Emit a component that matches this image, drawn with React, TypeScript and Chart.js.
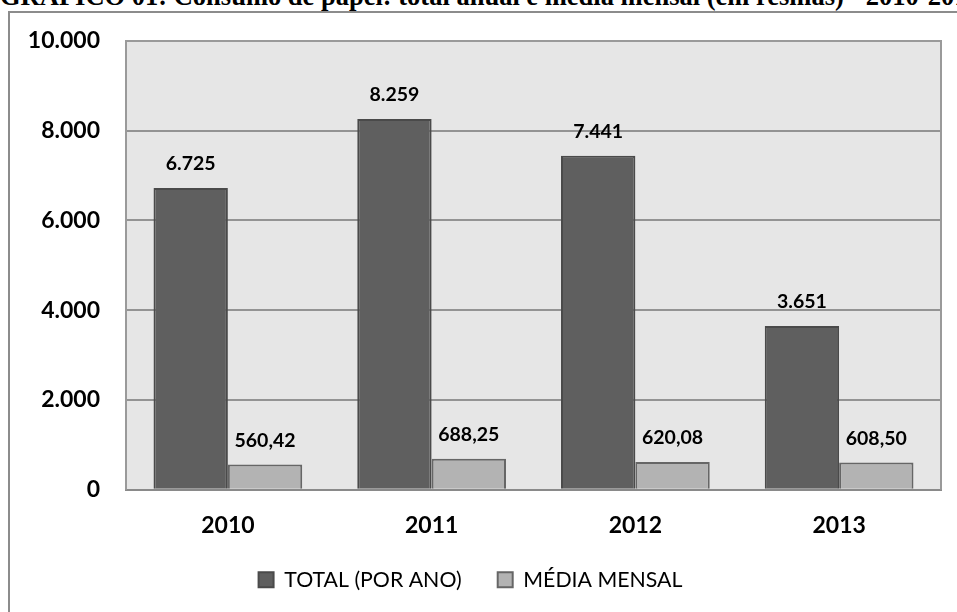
import React, { useEffect, useRef } from "react";
import { Chart, registerables } from "chart.js";

Chart.register(...registerables);

const categories = ["2010", "2011", "2012", "2013"];
const totalPorAno = [6725, 8259, 7441, 3651];
const mediaMensal = [560.42, 688.25, 620.08, 608.5];
const seriesNames = ["TOTAL (POR ANO)", "MÉDIA MENSAL"];
const yMin = 0;
const yMax = 10000;
const yStep = 2000;
const titleText = "GRÁFICO 01: Consumo de papel: total anual e média mensal (em resmas) - 2010-2013";

const FONT = "Lato";

function fmtThousands(v: number): string {
  return Math.round(v).toString().replace(/\B(?=(\d{3})+(?!\d))/g, ".");
}
function fmtDecimal(v: number): string {
  const [i, d] = v.toFixed(2).split(".");
  return fmtThousands(Number(i)) + "," + d;
}

const plotBg = {
  id: "plotBg",
  beforeDraw(chart: any) {
    const { ctx, chartArea: a } = chart;
    ctx.save();
    ctx.fillStyle = "#e6e6e6";
    ctx.fillRect(a.left, a.top, a.right - a.left, a.bottom - a.top);
    ctx.restore();
  },
  beforeDatasetsDraw(chart: any) {
    const { ctx, chartArea: a } = chart;
    ctx.save();
    ctx.strokeStyle = "#9a9a9a";
    ctx.lineWidth = 2;
    ctx.beginPath();
    ctx.moveTo(a.left, a.bottom);
    ctx.lineTo(a.left, a.top);
    ctx.lineTo(a.right, a.top);
    ctx.lineTo(a.right, a.bottom);
    ctx.stroke();
    ctx.restore();
  },
};

const dataLabels = {
  id: "dataLabels",
  afterDatasetsDraw(chart: any) {
    const { ctx } = chart;
    ctx.save();
    ctx.font = `bold 19.5px ${FONT}`;
    ctx.fillStyle = "#000";
    ctx.textAlign = "center";
    ctx.textBaseline = "middle";
    chart.data.datasets.forEach((ds: any, i: number) => {
      const meta = chart.getDatasetMeta(i);
      meta.data.forEach((el: any, j: number) => {
        const v = ds.data[j];
        const text = i === 0 ? fmtThousands(v) : fmtDecimal(v);
        ctx.fillText(text, el.x, el.y - 24);
      });
    });
    ctx.restore();
  },
};

export default function App() {
  const ref = useRef<HTMLCanvasElement | null>(null);

  useEffect(() => {
    if (!ref.current) return;
    const chart = new Chart(ref.current, {
      type: "bar",
      data: {
        labels: categories,
        datasets: [
          {
            label: seriesNames[0],
            data: totalPorAno,
            backgroundColor: "#5f5f5f",
            borderColor: "#4a4a4a",
            borderWidth: 2,
            categoryPercentage: 0.73,
            barPercentage: 1,
          },
          {
            label: seriesNames[1],
            data: mediaMensal,
            backgroundColor: "#b3b3b3",
            borderColor: "#666666",
            borderWidth: 2,
            categoryPercentage: 0.73,
            barPercentage: 1,
          },
        ],
      },
      options: {
        responsive: false,
        devicePixelRatio: 1,
        animation: false,
        layout: { padding: { left: 0, top: 41, right: 16, bottom: 11.5 } },
        scales: {
          x: {
            grid: { display: false, drawTicks: false },
            border: { display: true, color: "#8a8a8a", width: 2 },
            ticks: {
              color: "#000",
              font: { family: FONT, size: 23, weight: "bold" },
              padding: 22,
            },
            afterFit(scale: any) {
              scale.height = 43.5;
            },
          },
          y: {
            min: yMin,
            max: yMax,
            grid: { color: "#939393", lineWidth: 2, drawTicks: false },
            border: { display: false },
            ticks: {
              stepSize: yStep,
              color: "#000",
              font: { family: FONT, size: 23, weight: "bold" },
              padding: 26,
              callback: (v: any) => fmtThousands(Number(v)),
            },
            afterFit(scale: any) {
              scale.width = 126;
            },
          },
        },
        plugins: {
          legend: {
            position: "bottom",
            labels: {
              color: "#000",
              font: { family: FONT, size: 21.3 },
              boxWidth: 15,
              boxHeight: 15,
              padding: 36,
            },
          },
          tooltip: { enabled: false },
          title: { display: false },
        },
      } as any,
      plugins: [plotBg, dataLabels],
    });
    return () => chart.destroy();
  }, []);

  return (
    <div
      style={{
        position: "absolute",
        left: 0,
        top: 0,
        width: 957,
        height: 612,
        overflow: "hidden",
        background: "#fff",
      }}
    >
      <div
        style={{
          position: "absolute",
          left: 0,
          top: -17,
          whiteSpace: "nowrap",
          fontFamily: "'Liberation Serif', serif",
          fontWeight: "bold",
          fontSize: 26.5,
          lineHeight: "27px",
          color: "#000",
        }}
      >
        {titleText}
      </div>
      <div
        style={{
          position: "absolute",
          left: 8,
          top: 11,
          width: 1000,
          height: 700,
          border: "2px solid #8c8c8c",
          background: "#fff",
        }}
      />
      <canvas
        ref={ref}
        width={957}
        height={612}
        style={{ position: "absolute", left: 0, top: 0, width: 957, height: 612 }}
      />
    </div>
  );
}
